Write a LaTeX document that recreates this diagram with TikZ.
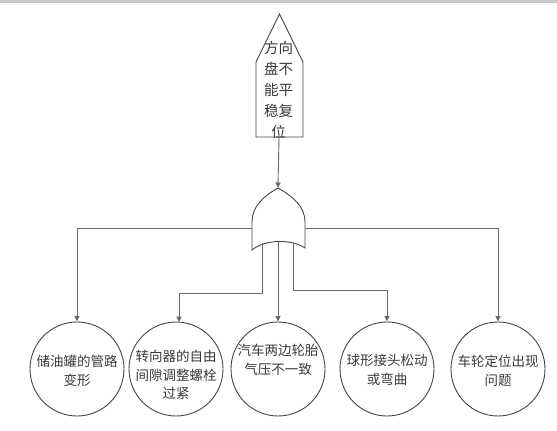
\documentclass[tikz,border=0pt]{standalone}
\usepackage{fontspec}
\newfontfamily\cjk{Noto Sans CJK SC}
\usetikzlibrary{arrows.meta}
\definecolor{linec}{HTML}{6A6A6A}
\definecolor{edgec}{HTML}{454545}
\definecolor{txtc}{HTML}{3A3A3A}
\definecolor{barc}{HTML}{C8C8C8}
\tikzset{
  conn/.style={draw=linec, line width=0.9pt},
  arr/.style={conn, -{Triangle[length=5.5pt,width=5pt]}},
  leaf/.style={circle, draw=edgec, line width=0.9pt, minimum size=94pt, inner sep=0pt},
  leaftext/.style={text=txtc, font=\cjk\fontsize{13.5}{18.5}\selectfont, align=center, inner sep=0pt},
  shapeline/.style={draw=edgec, line width=0.9pt, fill=white},
}
\begin{document}
\begin{tikzpicture}[x=1pt,y=-1pt]
\useasboundingbox (0,0) rectangle (557,431);
\fill[barc] (0,0) rectangle (557,2.5);
% top event (house shape)
\draw[shapeline] (256,137) -- (256,62) -- (279.5,14) -- (303,62) -- (303,137) -- cycle;
\node[text=txtc, font=\cjk\fontsize{14.5}{20.8}\selectfont, align=center, inner sep=0pt] (top) at (278.5,90) {方向\\盘不\\能平\\稳复\\位};
\coordinate (topbot) at (279,137);
% OR gate
\draw[shapeline] (252,250) -- (252,222) .. controls (252,206) and (264,196) .. (278,188)
  .. controls (292,196) and (305,206) .. (305,222) -- (305,248)
  .. controls (292,239) and (265,239) .. (252,250) -- cycle;
\coordinate (gtop) at (278,188);
\coordinate (gl) at (252,228);
\coordinate (gr) at (305,228);
\coordinate (gb1) at (262,243);
\coordinate (gb2) at (278,241.5);
\coordinate (gb3) at (293,242.5);
\draw[arr] (topbot) -- (gtop);
% leaves
\node[leaf] (c1) at (77,369) {};
\node[leaf] (c2) at (176,369) {};
\node[leaf] (c3) at (278,369) {};
\node[leaf] (c4) at (387,369) {};
\node[leaf] (c5) at (498,369) {};
\node[leaftext] (t1) at ([yshift=-2pt]c1.center) {储油罐的管路\\变形};
\node[leaftext] (t2) at ([yshift=-6pt]c2.center) {转向器的自由\\间隙调整螺栓\\过紧};
\node[leaftext] (t3) at ([yshift=9pt]c3.center) {汽车两边轮胎\\气压不一致};
\node[leaftext] (t4) at ([yshift=-1pt]c4.center) {球形接头松动\\或弯曲};
\node[leaftext] (t5) at ([yshift=-2pt]c5.center) {车轮定位出现\\问题};
% connectors
\draw[arr] (gl) -| (c1.north);
\draw[arr] (gr) -| (c5.north);
\draw[arr] (gb1) |- (179,293) -- (179,322);
\draw[arr] (gb2) -- (c3.north);
\draw[arr] (gb3) |- (387,290) -- (c4.north);
\end{tikzpicture}
\end{document}
